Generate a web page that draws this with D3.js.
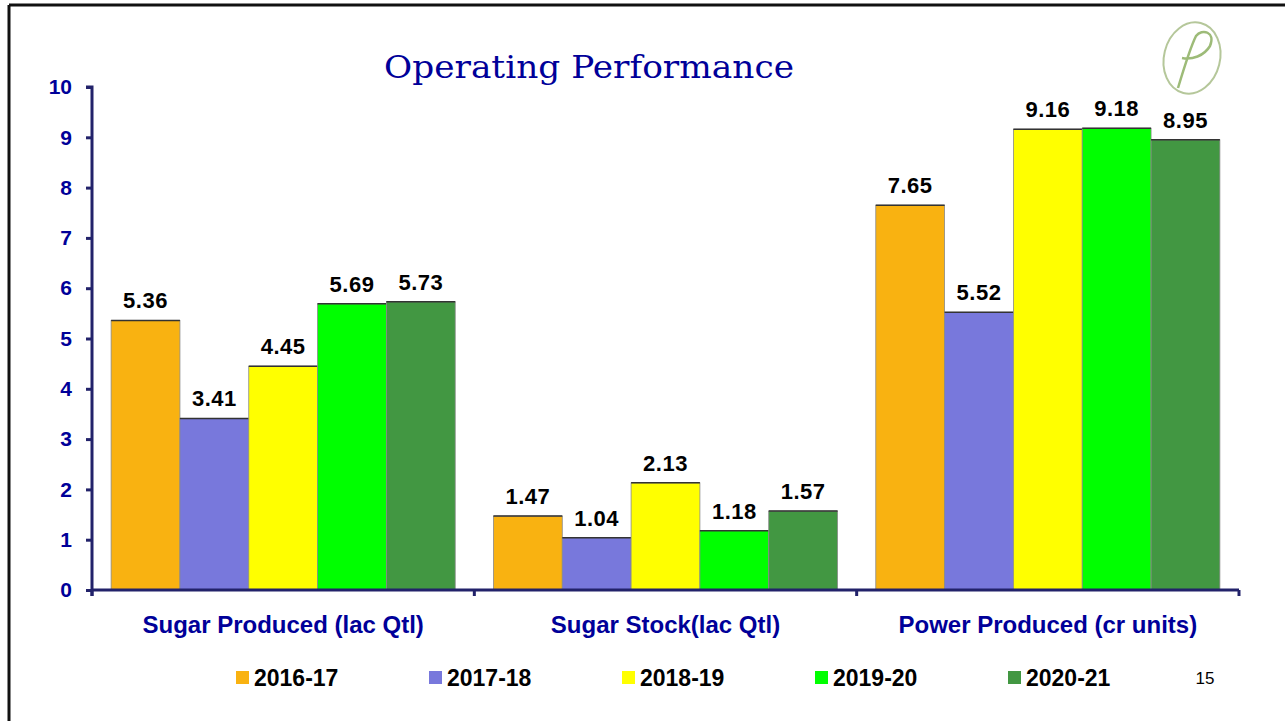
<!DOCTYPE html>
<html>
<head>
<meta charset="utf-8">
<script src="https://cdn.jsdelivr.net/npm/d3@7"></script>
<style>
  body { margin: 0; background: #fff; }
  svg { display: block; font-family: "Liberation Sans", Arial, sans-serif; }
</style>
</head>
<body>
<svg id="chart" width="1285" height="721"></svg>
<script>
// data
var categories = ["Sugar Produced (lac Qtl)", "Sugar Stock(lac Qtl)", "Power Produced (cr units)"]
var seasons = ["2016-17", "2017-18", "2018-19", "2019-20", "2020-21"]
var values = [
    [5.36, 1.47, 7.65],   // 2016-17
    [3.41, 1.04, 5.52],   // 2017-18
    [4.45, 2.13, 9.16],   // 2018-19
    [5.69, 1.18, 9.18],   // 2019-20
    [5.73, 1.57, 8.95]    // 2020-21
]
var yTicks = [0, 1, 2, 3, 4, 5, 6, 7, 8, 9, 10]
var colors = ["#f9b211", "#7878dc", "#ffff00", "#00ff00", "#429742"]

var svg = d3.select("#chart")
var navy = "#000099",
    axisColor = "#22226a"

// slide frame (top + left edge)
svg.append("line").attr("x1", 9).attr("x2", 1285).attr("y1", 5).attr("y2", 5)
    .style("stroke", "#111").style("stroke-width", 3)
svg.append("line").attr("x1", 9).attr("x2", 9).attr("y1", 5).attr("y2", 721)
    .style("stroke", "#111").style("stroke-width", 3)

var x0 = d3.scaleBand()
    .domain(categories)
    .range([92, 1239])
    .paddingInner(0.1)
    .paddingOuter(0.05)

var x1 = d3.scaleBand()
    .domain(seasons)
    .range([0, x0.bandwidth()])

var y = d3.scaleLinear()
    .domain([0, 10])
    .range([590, 87])

function rows(s, si) {
    return categories.map(function(c, ci) { return { cat: c, season: s, si: si, v: values[si][ci] } })
}
function barX(d) { return x0(d.cat) + x1(d.season) }

// bars
var group = svg.selectAll(".season")
    .data(seasons)
    .enter().append("g")
    .attr("class", "season")

group.selectAll("rect")
    .data(rows)
    .enter().append("rect")
    .attr("x", barX)
    .attr("y", function(d) { return y(d.v) })
    .attr("width", x1.bandwidth())
    .attr("height", function(d) { return y(0) - y(d.v) })
    .style("fill", function(d) { return colors[d.si] })
    .style("stroke", "#8a8a8a")
    .style("stroke-width", 0.8)

// darker top edge on each bar
group.selectAll("line.top")
    .data(rows)
    .enter().append("line")
    .attr("class", "top")
    .attr("x1", barX)
    .attr("x2", function(d) { return barX(d) + x1.bandwidth() })
    .attr("y1", function(d) { return y(d.v) })
    .attr("y2", function(d) { return y(d.v) })
    .style("stroke", "#333")
    .style("stroke-width", 1.5)

// value labels
group.selectAll("text")
    .data(rows)
    .enter().append("text")
    .attr("x", function(d) { return barX(d) + x1.bandwidth() / 2 })
    .attr("y", function(d) { return y(d.v) - 12 })
    .attr("text-anchor", "middle")
    .style("font-size", "22px")
    .style("font-weight", "bold")
    .style("letter-spacing", "0.5px")
    .style("fill", "#000")
    .text(function(d) { return d3.format(".2f")(d.v) })

// y axis
var yAxis = svg.append("g")
    .attr("transform", "translate(92,0)")
    .call(d3.axisLeft(y).tickValues(yTicks).tickSize(6).tickPadding(14).tickFormat(d3.format("d")))
yAxis.select(".domain").attr("d", "M-6," + y(10) + "H0V" + (y(0) + 6))
yAxis.selectAll("path, line").style("stroke", axisColor).style("stroke-width", 3)
yAxis.selectAll("text")
    .style("font-size", "21px")
    .style("font-weight", "bold")
    .style("fill", navy)
    .style("font-family", "'Liberation Sans', Arial, sans-serif")

// x axis line with group separators
var step = x0.step()
var edges = [92].concat(categories.map(function(c) { return x0(c) + x0.bandwidth() + step * 0.05 }))
svg.append("line")
    .attr("x1", 92).attr("x2", edges[edges.length - 1])
    .attr("y1", y(0)).attr("y2", y(0))
    .style("stroke", axisColor).style("stroke-width", 3)
svg.selectAll(".xtick")
    .data(edges)
    .enter().append("line")
    .attr("class", "xtick")
    .attr("x1", function(d) { return d }).attr("x2", function(d) { return d })
    .attr("y1", y(0)).attr("y2", y(0) + 6)
    .style("stroke", axisColor).style("stroke-width", 3)

svg.selectAll(".cat")
    .data(categories)
    .enter().append("text")
    .attr("class", "cat")
    .attr("x", function(d) { return x0(d) + x0.bandwidth() / 2 })
    .attr("y", 633)
    .attr("text-anchor", "middle")
    .style("font-size", "24px")
    .style("font-weight", "bold")
    .style("fill", navy)
    .text(function(d) { return d })

// title
svg.append("text")
    .attr("x", 589)
    .attr("y", 78)
    .attr("text-anchor", "middle")
    .attr("textLength", 410)
    .attr("lengthAdjust", "spacingAndGlyphs")
    .style("font-family", "'DejaVu Serif', 'Liberation Serif', serif")
    .style("font-size", "31px")
    .style("fill", navy)
    .text("Operating Performance")

// legend
var legend = svg.selectAll(".legend")
    .data(seasons)
    .enter().append("g")
    .attr("class", "legend")
    .attr("transform", function(d, i) { return "translate(" + (236 + i * 193) + ",671)" })
legend.append("rect")
    .attr("width", 13).attr("height", 13)
    .style("fill", function(d, i) { return colors[i] })
legend.append("text")
    .attr("x", 18).attr("y", 15)
    .style("font-size", "23px")
    .style("font-weight", "bold")
    .text(function(d) { return d })

// page number
svg.append("text")
    .attr("x", 1205).attr("y", 684)
    .attr("text-anchor", "middle")
    .style("font-size", "17px")
    .text("15")

// logo mark
var logo = svg.append("g").attr("transform", "translate(1192,58)")
logo.append("ellipse")
    .attr("rx", 28).attr("ry", 36)
    .attr("transform", "rotate(14)")
    .style("fill", "none").style("stroke", "#b5c79a").style("stroke-width", 2)
logo.append("path")
    .attr("d", "M-14,30 C-8,10 -2,-10 4,-22 C10,-30 24,-26 18,-12 C12,-2 0,2 -10,0")
    .style("fill", "none").style("stroke", "#9dbb78").style("stroke-width", 2.5)
</script>
</body>
</html>
